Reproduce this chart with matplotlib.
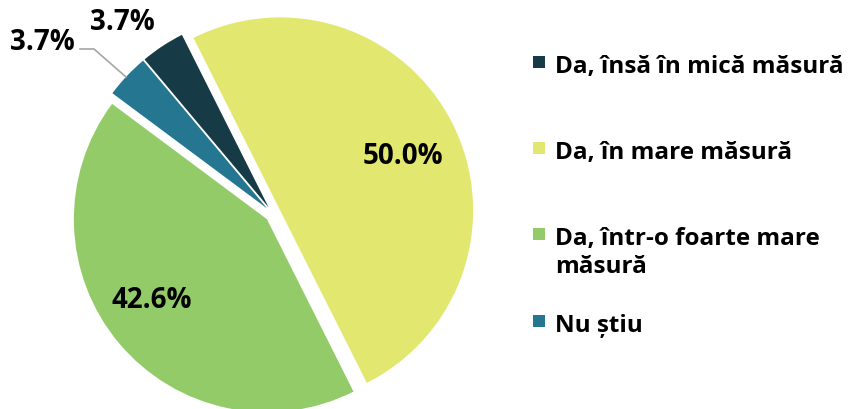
import matplotlib.pyplot as plt
from matplotlib.patches import Rectangle

labels = ['Da, însă în mică măsură', 'Da, în mare măsură',
          'Da, într-o foarte mare\nmăsură', 'Nu știu']
values = [3.7, 50.0, 42.6, 3.7]
colours = ['#163b46', '#e2e76f', '#93cb69', '#257791']

W, H = 851, 410
plt.rcParams['font.family'] = ['Open Sans', 'DejaVu Sans']

fig = plt.figure(figsize=(W / 100, H / 100), dpi=100)
ax = fig.add_axes([0, 0, 1, 1])

# pie centre and radius in pixel units (y measured from the bottom)
cx, cy, R = 273, H - 215, 193
wedges, _ = ax.pie(values, colors=colours, startangle=130, counterclock=False,
                   explode=[8] * 4, center=(cx, cy), radius=R,
                   wedgeprops=dict(linewidth=0))
ax.set_xlim(0, W)
ax.set_ylim(0, H)
ax.set_aspect('equal')
ax.axis('off')

# percentage labels
lab_pos = [(122, 22), (403, 157), (152, 301), (42, 43)]
for v, (x, y) in zip(values, lab_pos):
    ax.text(x, H - y, f'{v:.1f}%', ha='center', va='center',
            fontsize=20, fontweight='bold', color='black')

# leader line for the small teal slice
ax.plot([80, 94, 126], [H - 50, H - 50, H - 78], color='#a6a6a6', lw=1.2)

# legend, one line of text at a time
leg_y = [63, 149, 235, 322]
for lab, c, y in zip(labels, colours, leg_y):
    ax.add_patch(Rectangle((533, H - y - 6), 12, 12, color=c, lw=0))
    for i, line in enumerate(lab.split('\n')):
        ax.text(555, H - y - 1 - 28 * i, line, ha='left',
                va='center_baseline', fontsize=17.5, fontweight='bold',
                color='black')

fig.savefig('out.png', dpi=100)
